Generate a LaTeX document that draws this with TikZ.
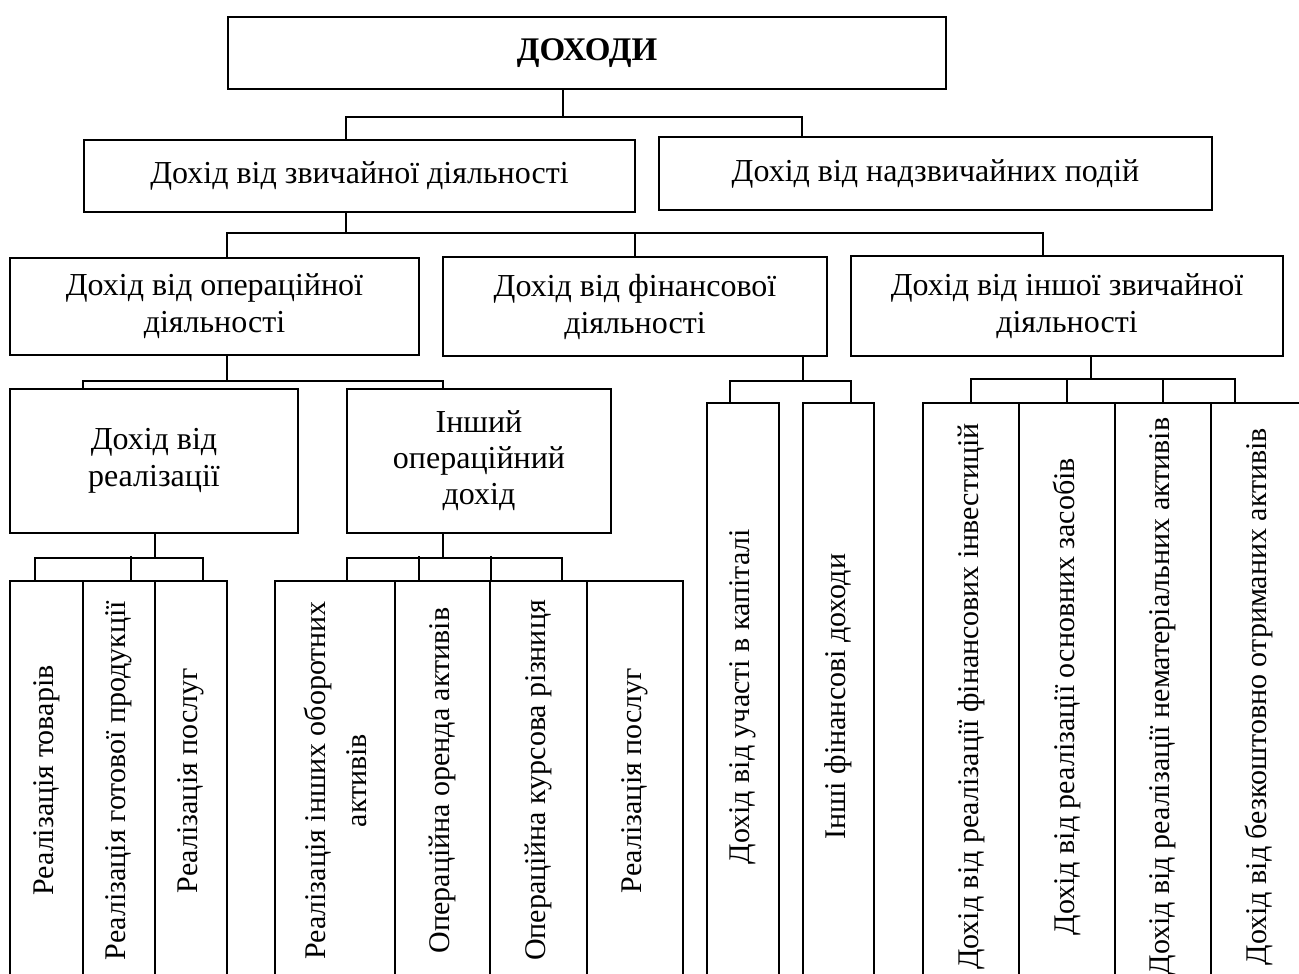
\documentclass[tikz,border=0pt]{standalone}
\usepackage{fontspec}
\setmainfont{Liberation Serif}

\begin{document}
\begin{tikzpicture}[x=1pt, y=-1pt, line width=2pt,
  box/.style={rectangle, draw, align=center, inner sep=0pt, font=\fontsize{32}{37}\selectfont},
  vbox/.style={box, rotate=90, font=\fontsize{30}{41}\selectfont}]
\useasboundingbox (0,0) rectangle (1299,974);
\node (dohody) [box, minimum width=718, minimum height=72, font=\fontsize{33}{37}\selectfont\bfseries] at (587,53) {ДОХОДИ};
\node (zvych) [box, minimum width=551, minimum height=72] at (359.5,176) {Дохід від звичайної діяльності};
\node (nadzv) [box, minimum width=553, minimum height=73] at (935.5,173.5) {Дохід від надзвичайних подій};
\node (oper) [box, minimum width=409, minimum height=97] at (214.5,306.5) {Дохід від операційної\\діяльності};
\node (fin) [box, minimum width=384, minimum height=99] at (635,306.5) {Дохід від фінансової\\діяльності};
\node (insh) [box, minimum width=432, minimum height=100] at (1067,306) {Дохід від іншої звичайної\\діяльності};
\node (real) [box, minimum width=288, minimum height=144] at (154,461) {Дохід від\\реалізації};
\node (inop) [box, minimum width=264, minimum height=144, font=\fontsize{32}{36}\selectfont] at (479,461) {Інший\\операційний\\дохід};
\node (tovary) [vbox, minimum width=399, minimum height=73] at (46.5,780.5) {Реалізація товарів};
\node (gotova) [vbox, minimum width=399, minimum height=72] at (119,780.5) {Реалізація готової продукції};
\node (poslugy) [vbox, minimum width=399, minimum height=72] at (191,780.5) {Реалізація послуг};
\node (oborot) [vbox, minimum width=399, minimum height=120] at (335,780.5) {Реалізація інших оборотних\\активів};
\node (orenda) [vbox, minimum width=399, minimum height=95] at (442.5,780.5) {Операційна оренда активів};
\node (kurs) [vbox, minimum width=399, minimum height=97] at (538.5,780.5) {Операційна курсова різниця};
\node (poslugy2) [vbox, minimum width=399, minimum height=96] at (635,780.5) {Реалізація послуг};
\node (kapital) [vbox, minimum width=587, minimum height=72] at (743,696.5) {Дохід від участі в капіталі};
\node (inshfin) [vbox, minimum width=587, minimum height=71] at (838.5,696.5) {Інші фінансові доходи};
\node (finv) [vbox, minimum width=587, minimum height=96] at (971,696.5) {Дохід від реалізації фінансових інвестицій};
\node (osn) [vbox, minimum width=587, minimum height=96] at (1067,696.5) {Дохід від реалізації основних засобів};
\node (nemat) [vbox, minimum width=587, minimum height=96] at (1163,696.5) {Дохід від реалізації нематеріальних активів};
\node (bezk) [vbox, minimum width=587, minimum height=96] at (1259,696.5) {Дохід від безкоштовно отриманих активів};
\draw ([xshift=-24pt]dohody.south) -- ++(0,27) coordinate (b1);
\draw ([xshift=-13.5pt]zvych.north) |- (b1) -| ([xshift=-133.5pt]nadzv.north);
\draw ([xshift=-13.5pt]zvych.south) -- ++(0,20) coordinate (b2);
\draw ([xshift=12.5pt]oper.north) |- (b2) -| ([xshift=-24pt]insh.north);
\draw (b2 -| fin.north) -- (fin.north);
\draw ([xshift=12.5pt]oper.south) -- ++(0,25) coordinate (b3);
\draw ([xshift=-71pt]real.north) |- (b3) -| ([xshift=-36pt]inop.north);
\draw ([xshift=168pt]fin.south) -- ++(0,24) coordinate (b4);
\draw ([xshift=-13pt]kapital.east) |- (b4) -| ([xshift=12.5pt]inshfin.east);
\draw ([xshift=24pt]insh.south) -- ++(0,22) coordinate (b5);
\draw (finv.east) |- (b5) -| ([xshift=-24pt]bezk.east);
\draw (osn.east) -- (b5 -| osn.east);
\draw (nemat.east) -- (b5 -| nemat.east);
\draw ([xshift=1pt]real.south) -- ++(0,24) coordinate (b6);
\draw ([xshift=-11.5pt]tovary.east) |- (b6) -| ([xshift=12pt]poslugy.east);
\draw ([xshift=12pt]gotova.east) -- ++(0,-24);
\draw ([xshift=-36pt]inop.south) -- ++(0,24) coordinate (b7);
\draw ([xshift=12pt]oborot.east) |- (b7) -| ([xshift=-73pt]poslugy2.east);
\draw ([xshift=-23.5pt]orenda.east) -- ++(0,-24);
\draw ([xshift=-47.5pt]kurs.east) -- ++(0,-24);
\end{tikzpicture}
\end{document}
